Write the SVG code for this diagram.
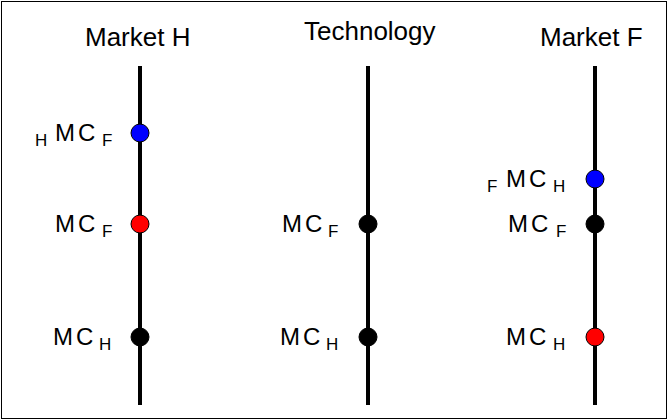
<svg xmlns="http://www.w3.org/2000/svg" width="668" height="420" viewBox="0 0 668 420">
  <style>
    text { font-family: "Liberation Sans", Arial, sans-serif; fill: #000; }
    .title { font-size: 26px; }
    .mc { font-size: 24px; letter-spacing: 3px; }
    .sub { font-size: 17px; }
    .axis { stroke: #000; stroke-width: 4; }
    .dot { stroke: #000; stroke-width: 1; }
    .blue { fill: #0000ff; }
    .red { fill: #ff0000; }
    .black { fill: #000; }
  </style>

  <!-- frame -->
  <rect x="1.5" y="1.5" width="665" height="417" fill="#fff" stroke="#000" stroke-width="1"/>

  <!-- column titles -->
  <g id="titles">
    <text class="title" x="85" y="46">Market H</text>
    <text class="title" x="304" y="40">Technology</text>
    <text class="title" x="540" y="46">Market F</text>
  </g>

  <!-- vertical cost axes -->
  <g id="axes">
    <line class="axis" x1="140" y1="66" x2="140" y2="405"/>
    <line class="axis" x1="368" y1="66" x2="368" y2="405"/>
    <line class="axis" x1="595" y1="66" x2="595" y2="405"/>
  </g>

  <!-- Market H -->
  <g id="mh-hmcf">
    <circle class="dot blue" cx="140" cy="133" r="9"/>
    <text class="sub" x="35" y="146">H</text>
    <text class="mc" x="55" y="141">MC</text>
    <text class="sub" x="102" y="146">F</text>
  </g>
  <g id="mh-mcf">
    <circle class="dot red" cx="140" cy="224" r="9"/>
    <text class="mc" x="55" y="232">MC</text>
    <text class="sub" x="102" y="237">F</text>
  </g>
  <g id="mh-mch">
    <circle class="dot black" cx="140" cy="337" r="9"/>
    <text class="mc" x="53" y="345">MC</text>
    <text class="sub" x="99" y="350">H</text>
  </g>

  <!-- Technology -->
  <g id="tech-mcf">
    <circle class="dot black" cx="368" cy="224" r="9"/>
    <text class="mc" x="282" y="232">MC</text>
    <text class="sub" x="328" y="237">F</text>
  </g>
  <g id="tech-mch">
    <circle class="dot black" cx="368" cy="337" r="9"/>
    <text class="mc" x="280" y="345">MC</text>
    <text class="sub" x="326" y="350">H</text>
  </g>

  <!-- Market F -->
  <g id="mf-fmch">
    <circle class="dot blue" cx="595" cy="179" r="9"/>
    <text class="sub" x="487" y="192">F</text>
    <text class="mc" x="506" y="187">MC</text>
    <text class="sub" x="553" y="192">H</text>
  </g>
  <g id="mf-mcf">
    <circle class="dot black" cx="595" cy="224" r="9"/>
    <text class="mc" x="508" y="232">MC</text>
    <text class="sub" x="556" y="237">F</text>
  </g>
  <g id="mf-mch">
    <circle class="dot red" cx="595" cy="337" r="9"/>
    <text class="mc" x="506" y="345">MC</text>
    <text class="sub" x="553" y="350">H</text>
  </g>
</svg>
